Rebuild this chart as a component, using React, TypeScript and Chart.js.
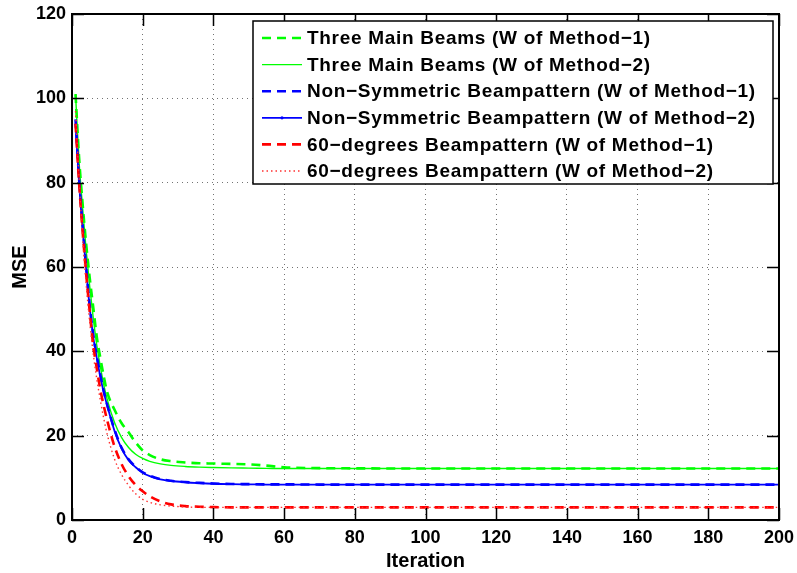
import React, { useEffect, useRef } from "react";
import { Chart, registerables } from "chart.js";

Chart.register(...registerables);

// ---- data ----
const iterations = [1, 2, 3, 4, 5, 6, 7, 8, 9, 10, 12, 14, 16, 18, 20, 22, 25, 28, 32, 36, 40, 45, 50, 55, 60, 70, 80, 100, 120, 140, 160, 180, 200];

const threeBeamsM1 = [101, 86, 75, 65.5, 57.5, 50.5, 43.5, 38.5, 34, 30.2, 26.2, 23.0, 20.8, 18.4, 16.5, 15.4, 14.4, 13.95, 13.65, 13.45, 13.4, 13.3, 13.2, 12.9, 12.5, 12.3, 12.25, 12.2, 12.2, 12.2, 12.2, 12.2, 12.2];
const threeBeamsM2 = [101, 85, 74, 64, 55.5, 48, 41.5, 36.5, 32, 28.5, 23.2, 19.6, 17.2, 15.6, 14.6, 13.9, 13.3, 12.95, 12.7, 12.55, 12.45, 12.35, 12.3, 12.25, 12.2, 12.2, 12.2, 12.2, 12.2, 12.2, 12.2, 12.2, 12.2];
const nonSymM1 = [95, 81, 70, 60, 51, 44, 39, 34.5, 30.5, 27.2, 21.5, 17.2, 14.4, 12.6, 11.3, 10.5, 9.7, 9.3, 9.0, 8.8, 8.65, 8.55, 8.5, 8.45, 8.45, 8.4, 8.4, 8.4, 8.4, 8.4, 8.4, 8.4, 8.4];
const nonSymM2 = [94, 80, 69, 59.5, 50.5, 43.5, 38.5, 34, 30.2, 27, 21.2, 17, 14.2, 12.5, 11.2, 10.4, 9.65, 9.25, 8.95, 8.75, 8.6, 8.5, 8.45, 8.4, 8.4, 8.4, 8.4, 8.4, 8.4, 8.4, 8.4, 8.4, 8.4];
const sixtyDegM1 = [94, 80, 68.5, 58.5, 49.5, 41.5, 36, 31, 27, 23.5, 17.5, 13.3, 10.4, 8.3, 6.8, 5.6, 4.4, 3.7, 3.3, 3.15, 3.05, 3.0, 3.0, 3.0, 3.0, 3.0, 3.0, 3.0, 3.0, 3.0, 3.0, 3.0, 3.0];
const sixtyDegM2 = [97, 81, 67, 56, 47, 39.5, 33.5, 28.5, 24, 20.2, 14.5, 10.8, 8.2, 6.2, 4.9, 4.2, 3.6, 3.3, 3.1, 3.0, 3.0, 3.0, 3.0, 3.0, 3.0, 3.0, 3.0, 3.0, 3.0, 3.0, 3.0, 3.0, 3.0];

const seriesLabels = [
  "Three Main Beams (W of Method\u22121)",
  "Three Main Beams (W of Method\u22122)",
  "Non\u2212Symmetric Beampattern (W of Method\u22121)",
  "Non\u2212Symmetric Beampattern (W of Method\u22122)",
  "60\u2212degrees Beampattern (W of Method\u22121)",
  "60\u2212degrees Beampattern (W of Method\u22122)",
];

const xTicks = [0, 20, 40, 60, 80, 100, 120, 140, 160, 180, 200];
const yTicks = [0, 20, 40, 60, 80, 100, 120];
const xTitle = "Iteration";
const yTitle = "MSE";

const FONT = "'Liberation Sans', Arial, Helvetica, sans-serif";

const framePlugin = {
  id: "frameTicks",
  afterDatasetsDraw(chart: any) {
    const { ctx, chartArea: a, scales } = chart;
    ctx.save();
    ctx.setLineDash([]);
    ctx.strokeStyle = "#000";
    ctx.lineWidth = 1.5;
    const tl = 12;
    ctx.beginPath();
    xTicks.forEach((v) => {
      const px = Math.round(scales.x.getPixelForValue(v)) + 0.5;
      ctx.moveTo(px, a.bottom);
      ctx.lineTo(px, a.bottom - tl);
      ctx.moveTo(px, a.top);
      ctx.lineTo(px, a.top + tl);
    });
    yTicks.forEach((v) => {
      const py = Math.round(scales.y.getPixelForValue(v)) + 0.5;
      ctx.moveTo(a.left, py);
      ctx.lineTo(a.left + tl, py);
      ctx.moveTo(a.right, py);
      ctx.lineTo(a.right - tl, py);
    });
    ctx.stroke();
    ctx.lineWidth = 2;
    ctx.strokeRect(a.left, a.top, a.right - a.left, a.bottom - a.top);
    ctx.restore();
  },
};

const legendPlugin = {
  id: "boxLegend",
  afterDraw(chart: any) {
    const { ctx, chartArea: a } = chart;
    const ds = chart.data.datasets;
    const boxW = 520;
    const boxH = 163;
    const bx = a.right - 526;
    const by = a.top + 7;
    ctx.save();
    ctx.fillStyle = "#fff";
    ctx.fillRect(bx, by, boxW, boxH);
    ctx.strokeStyle = "#000";
    ctx.lineWidth = 1.5;
    ctx.setLineDash([]);
    ctx.strokeRect(bx, by, boxW, boxH);
    ctx.font = `bold 19px ${FONT}`;
    (ctx as any).letterSpacing = "0.7px";
    ctx.textBaseline = "middle";
    ctx.textAlign = "left";
    ds.forEach((d: any, i: number) => {
      const cy = by + 17 + i * 26.6;
      ctx.save();
      ctx.strokeStyle = d.borderColor;
      ctx.lineWidth = d.borderWidth;
      ctx.setLineDash(d.borderDash || []);
      ctx.beginPath();
      ctx.moveTo(bx + 9, cy);
      ctx.lineTo(bx + 49, cy);
      ctx.stroke();
      if (d.legendDot) {
        ctx.fillStyle = d.borderColor;
        ctx.beginPath();
        ctx.arc(bx + 29, cy, 1.6, 0, Math.PI * 2);
        ctx.fill();
      }
      ctx.restore();
      ctx.fillStyle = "#000";
      ctx.fillText(d.label, bx + 54, cy + 1);
    });
    ctx.restore();
  },
};

export default function App() {
  const ref = useRef<HTMLCanvasElement>(null);

  useEffect(() => {
    document.body.style.margin = "0";
    const canvas = ref.current;
    if (!canvas) return;
    const pts = (ys: number[]) => iterations.map((x, i) => ({ x, y: ys[i] }));
    const styles = [
      { data: threeBeamsM1, color: "#00ff00", width: 2.6, dash: [9, 6] },
      { data: threeBeamsM2, color: "#00ff00", width: 1.4, dash: [] },
      { data: nonSymM1, color: "#0000ff", width: 2.6, dash: [9, 6] },
      { data: nonSymM2, color: "#0000ff", width: 1.8, dash: [], dot: true },
      { data: sixtyDegM1, color: "#ff0000", width: 2.6, dash: [9, 6] },
      { data: sixtyDegM2, color: "#ff3030", width: 1.4, dash: [1.5, 3] },
    ];
    const datasets = styles.map((s, i) => ({
      label: seriesLabels[i],
      data: pts(s.data),
      borderColor: s.color,
      backgroundColor: s.color,
      borderWidth: s.width,
      borderDash: s.dash,
      pointRadius: 0,
      fill: false,
      cubicInterpolationMode: "monotone",
      order: styles.length - 1 - i,
      legendDot: !!s.dot,
    }));

    const tickFont = { family: FONT, size: 18, weight: "bold" as const };
    const titleFont = { family: FONT, size: 20, weight: "bold" as const };

    const chart = new Chart(canvas, {
      type: "line",
      data: { datasets: datasets as any },
      plugins: [framePlugin, legendPlugin],
      options: {
        responsive: false,
        animation: false,
        devicePixelRatio: 1,
        layout: { padding: { top: 14, right: 18, left: 0, bottom: 0 } },
        plugins: { legend: { display: false }, tooltip: { enabled: false } },
        scales: {
          x: {
            type: "linear",
            min: 0,
            max: 200,
            afterBuildTicks: (s: any) => {
              s.ticks = xTicks.map((v) => ({ value: v }));
            },
            ticks: { font: tickFont, color: "#000", padding: 7, maxRotation: 0, autoSkip: false },
            grid: { color: "rgba(0,0,0,0.55)", lineWidth: 1, drawTicks: false },
            border: { display: false, dash: [1, 4] },
            title: { display: true, text: xTitle, font: titleFont, color: "#000", padding: { top: 0, bottom: 0 } },
            afterFit: (s: any) => {
              s.height = 53;
              s.paddingLeft = 0;
              s.paddingRight = 0;
            },
          },
          y: {
            type: "linear",
            min: 0,
            max: 120,
            afterBuildTicks: (s: any) => {
              s.ticks = yTicks.map((v) => ({ value: v }));
            },
            ticks: { font: tickFont, color: "#000", padding: 6, autoSkip: false },
            grid: { color: "rgba(0,0,0,0.55)", lineWidth: 1, drawTicks: false },
            border: { display: false, dash: [1, 4] },
            title: { display: true, text: yTitle, font: titleFont, color: "#000", padding: { top: 8, bottom: 0 } },
            afterFit: (s: any) => {
              s.width = 72;
              s.paddingTop = 0;
              s.paddingBottom = 0;
            },
          },
        },
      } as any,
    });
    return () => chart.destroy();
  }, []);

  return (
    <div style={{ width: 797, height: 573, background: "#fff" }}>
      <canvas ref={ref} width={797} height={573} style={{ display: "block" }} />
    </div>
  );
}
